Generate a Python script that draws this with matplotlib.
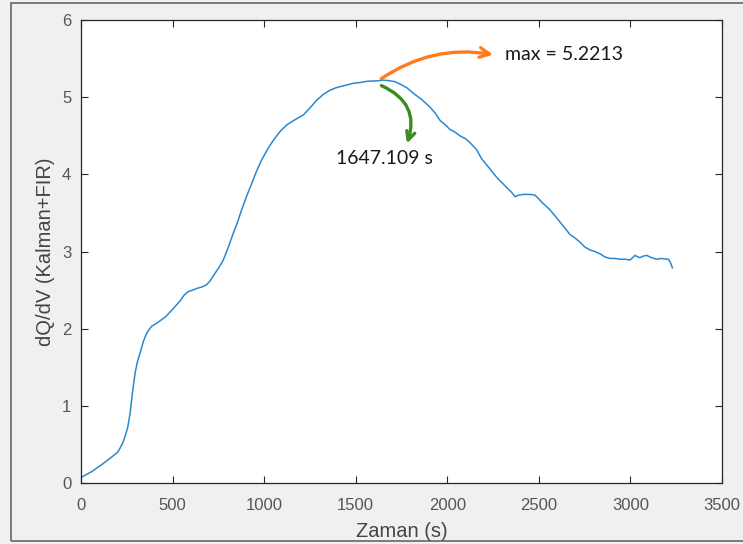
import matplotlib
matplotlib.use("Agg")
import matplotlib.pyplot as plt
from matplotlib.patches import Rectangle

# ---- data ----
time_s = [0, 60, 120, 180, 200, 213, 228, 240, 255, 268, 280, 295, 308, 322, 340,
          358, 385, 413, 460, 504, 541, 565, 586, 610, 630, 660, 686, 705, 730,
          755, 777, 805, 832, 855, 877, 905, 932, 960, 987, 1020, 1050, 1085,
          1123, 1170, 1214, 1250, 1287, 1325, 1360, 1390, 1420, 1455, 1487,
          1525, 1560, 1600, 1633, 1647, 1680, 1715, 1742, 1780, 1815, 1860,
          1906, 1935, 1960, 1990, 2015, 2040, 2069, 2100, 2120, 2160, 2188,
          2233, 2270, 2320, 2350, 2370, 2390, 2415, 2450, 2479, 2500, 2520,
          2561, 2606, 2640, 2670, 2700, 2725, 2750, 2779, 2805, 2834, 2860,
          2888, 2915, 2943, 2970, 2998, 3012, 3025, 3040, 3052, 3070, 3089,
          3115, 3143, 3170, 3198, 3207, 3218, 3229]
dqdv = [0.07, 0.15, 0.25, 0.36, 0.40, 0.45, 0.52, 0.60, 0.72, 0.90, 1.15, 1.42,
        1.57, 1.68, 1.83, 1.94, 2.03, 2.07, 2.15, 2.26, 2.36, 2.44, 2.48, 2.50,
        2.52, 2.54, 2.57, 2.62, 2.71, 2.80, 2.89, 3.06, 3.24, 3.38, 3.54, 3.72,
        3.88, 4.05, 4.19, 4.33, 4.44, 4.55, 4.64, 4.71, 4.77, 4.86, 4.96, 5.04,
        5.09, 5.12, 5.14, 5.16, 5.18, 5.19, 5.205, 5.21, 5.215, 5.2213, 5.215,
        5.20, 5.17, 5.12, 5.05, 4.97, 4.87, 4.79, 4.70, 4.64, 4.58, 4.55, 4.50,
        4.46, 4.42, 4.32, 4.20, 4.07, 3.96, 3.84, 3.77, 3.71, 3.73, 3.74, 3.74,
        3.73, 3.68, 3.63, 3.54, 3.41, 3.31, 3.22, 3.17, 3.12, 3.06, 3.02, 3.00,
        2.97, 2.93, 2.91, 2.91, 2.90, 2.90, 2.89, 2.92, 2.95, 2.93, 2.92, 2.94,
        2.95, 2.92, 2.90, 2.91, 2.90, 2.90, 2.86, 2.79]

x_ticks = [0, 500, 1000, 1500, 2000, 2500, 3000, 3500]
y_ticks = [0, 1, 2, 3, 4, 5, 6]
x_label = "Zaman (s)"
y_label = "dQ/dV (Kalman+FIR)"
max_time = 1647.109
max_value = 5.2213

# ---- figure ----
fig = plt.figure(figsize=(7.43, 5.44), dpi=100, facecolor="#f0f0f0")
ax = fig.add_axes([81/743, 1 - 483/544, (722-81)/743, (483-20)/544])
ax.set_facecolor("white")

ax.plot(time_s, dqdv, color="#2a88d0", lw=1.1)

ax.set_xlim(0, 3500)
ax.set_ylim(0, 6)
ax.set_xticks(x_ticks)
ax.set_yticks(y_ticks)

tick_font = {"family": "Liberation Sans", "size": 12}
ax.set_xticklabels([str(t) for t in x_ticks], fontdict=tick_font, color="#555555")
ax.set_yticklabels([str(t) for t in y_ticks], fontdict=tick_font, color="#555555")
ax.tick_params(direction="in", length=5, width=0.8, color="#262626",
               top=True, right=True)
ax.tick_params(axis="x", pad=11)
ax.tick_params(axis="y", pad=7)
for s in ax.spines.values():
    s.set_color("#262626")
    s.set_linewidth(0.9)

ax.set_xlabel(x_label, family="Liberation Sans", fontsize=14.5, color="#444444",
              labelpad=6)
ax.set_ylabel(y_label, family="Liberation Sans", fontsize=14.5, color="#444444",
              labelpad=5)

# ---- annotations ----
ann_font = dict(family="Lato", fontsize=14, color="#1a1a1a")
ax.annotate("", xy=(2250, 5.55), xytext=(1640, 5.24),
            arrowprops=dict(arrowstyle="->,head_length=0.7,head_width=0.35",
                            color="#ff7b1c", lw=2.4,
                            connectionstyle="arc3,rad=-0.2",
                            shrinkA=0, shrinkB=0))
ax.text(2315, 5.55, f"max = {max_value}", va="center", ha="left", **ann_font)

ax.annotate("", xy=(1780, 4.40), xytext=(1640, 5.15),
            arrowprops=dict(arrowstyle="->,head_length=0.6,head_width=0.3",
                            color="#3a8c1f", lw=2.4,
                            connectionstyle="arc3,rad=-0.45",
                            shrinkA=0, shrinkB=0))
ax.text(1392, 4.21, f"{max_time} s", va="center", ha="left", **ann_font)

# frame around the figure (cropped screenshot border)
fig.patches.append(Rectangle((11/743, 3/544), 1.2, 538/544, transform=fig.transFigure,
                             fill=False, edgecolor="#666666", lw=1.2, zorder=-1))

fig.savefig("out.png", dpi=100, facecolor=fig.get_facecolor())
